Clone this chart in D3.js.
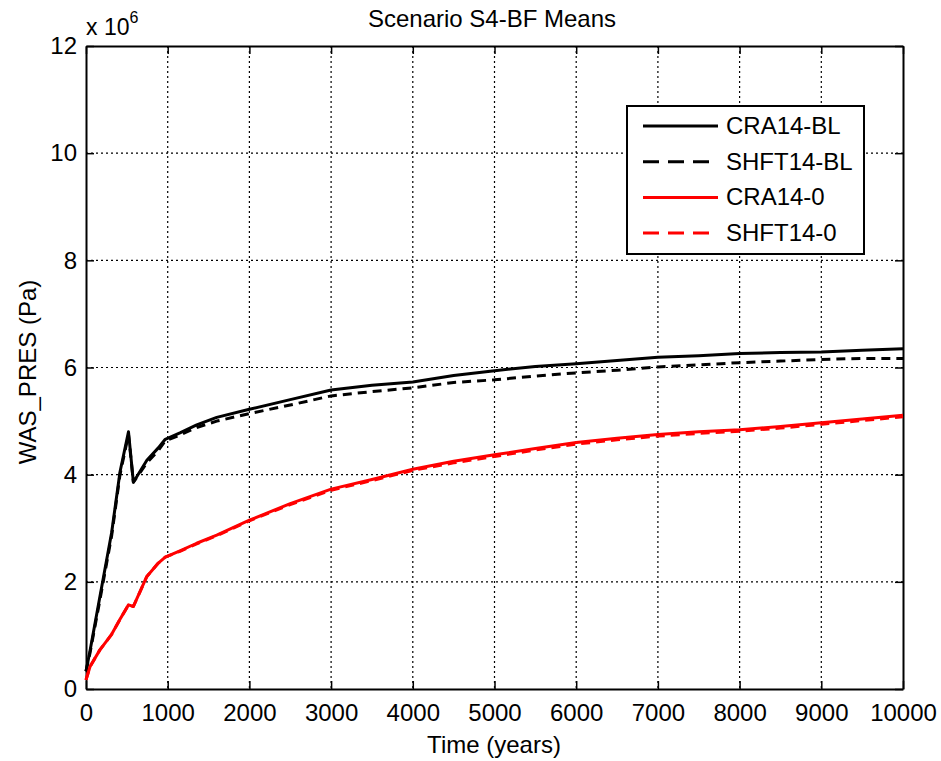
<!DOCTYPE html>
<html>
<head>
<meta charset="utf-8">
<script src="https://cdn.jsdelivr.net/npm/d3@7"></script>
<style>
  body { margin: 0; background: #fff; }
  text { font-family: "Liberation Sans", Arial, sans-serif; }
</style>
</head>
<body>
<div class="chart"></div>
<script>
// data (pressure in units of 1e6 Pa)
var timeYears = [0, 50, 170, 314, 416, 520, 580, 745, 885, 970, 1150, 1355, 1600, 2000, 2500,
  3000, 3500, 4000, 4500, 5000, 5500, 6000, 6500, 7000, 7500, 8000, 8500, 9000, 9500, 10000];
var craBL = [0.33, 0.72, 1.72, 2.92, 4.05, 4.8, 3.86, 4.27, 4.5, 4.66, 4.78, 4.93, 5.07, 5.22, 5.40,
  5.58, 5.67, 5.73, 5.85, 5.94, 6.02, 6.07, 6.13, 6.19, 6.22, 6.26, 6.28, 6.29, 6.32, 6.35];
var shftBL = [0.33, 0.68, 1.66, 2.86, 4.0, 4.75, 3.86, 4.22, 4.45, 4.63, 4.74, 4.88, 5.0, 5.14, 5.30,
  5.47, 5.55, 5.62, 5.72, 5.77, 5.84, 5.90, 5.95, 6.01, 6.05, 6.09, 6.12, 6.15, 6.17, 6.17];
var cra0 = [0.17, 0.42, 0.73, 1.02, 1.3, 1.57, 1.54, 2.1, 2.35, 2.46, 2.58, 2.72, 2.87, 3.15, 3.46,
  3.73, 3.91, 4.10, 4.25, 4.37, 4.49, 4.60, 4.68, 4.75, 4.80, 4.84, 4.90, 4.97, 5.04, 5.11];
var shft0 = [0.17, 0.42, 0.73, 1.02, 1.3, 1.57, 1.54, 2.1, 2.35, 2.46, 2.57, 2.71, 2.86, 3.14, 3.44,
  3.71, 3.89, 4.08, 4.22, 4.34, 4.46, 4.57, 4.65, 4.72, 4.77, 4.81, 4.87, 4.94, 5.01, 5.08];

var seriesNames = ["CRA14-BL", "SHFT14-BL", "CRA14-0", "SHFT14-0"];
var seriesValues = [craBL, shftBL, cra0, shft0];
var seriesColors = ["#000", "#000", "#ff0000", "#ff0000"];
var seriesDash = [null, "9,6", null, "9,6"];

var xTicks = [0, 1000, 2000, 3000, 4000, 5000, 6000, 7000, 8000, 9000, 10000];
var yTicks = [0, 2, 4, 6, 8, 10, 12];

var svgWidth = 941;
var svgHeight = 761;
var margin = { top: 46, right: 38, bottom: 72, left: 86 };
var width = svgWidth - margin.left - margin.right;
var height = svgHeight - margin.top - margin.bottom;

var svg = d3.select(".chart")
  .append("svg")
  .attr("width", svgWidth)
  .attr("height", svgHeight);

var chartGroup = svg.append("g")
  .attr("transform", `translate(${margin.left}, ${margin.top})`);

var xScale = d3.scaleLinear().domain([0, 10000]).range([0, width]);
var yScale = d3.scaleLinear().domain([0, 12]).range([height, 0]);

// grid lines (dotted)
chartGroup.append("g")
  .selectAll("line.vg")
  .data(xTicks.slice(1, -1))
  .enter().append("line")
  .attr("x1", d => xScale(d)).attr("x2", d => xScale(d))
  .attr("y1", 0).attr("y2", height)
  .attr("stroke", "#000").attr("stroke-width", 1.2)
  .attr("stroke-dasharray", "2,3");

chartGroup.append("g")
  .selectAll("line.hg")
  .data(yTicks.slice(1, -1))
  .enter().append("line")
  .attr("x1", 0).attr("x2", width)
  .attr("y1", d => yScale(d)).attr("y2", d => yScale(d))
  .attr("stroke", "#000").attr("stroke-width", 1.2)
  .attr("stroke-dasharray", "2,3");

// axes with inward ticks
var bottomAxis = d3.axisBottom(xScale).tickValues(xTicks).tickFormat(d3.format("d"))
  .tickSizeInner(-8).tickSizeOuter(0).tickPadding(15);
var leftAxis = d3.axisLeft(yScale).tickValues(yTicks).tickFormat(d3.format("d"))
  .tickSizeInner(-8).tickSizeOuter(0).tickPadding(9);
var topAxis = d3.axisTop(xScale).tickValues(xTicks).tickSizeInner(-8).tickSizeOuter(0).tickFormat("");
var rightAxis = d3.axisRight(yScale).tickValues(yTicks).tickSizeInner(-8).tickSizeOuter(0).tickFormat("");

function styleAxis(g) {
  g.select(".domain").attr("stroke", "#000").attr("stroke-width", 2);
  g.selectAll(".tick line").attr("stroke", "#000").attr("stroke-width", 1.5);
  g.selectAll(".tick text").attr("font-size", "24px").attr("fill", "#000")
    .attr("font-family", "Liberation Sans, Arial, sans-serif");
}

chartGroup.append("g").attr("transform", `translate(0, ${height})`).call(bottomAxis).call(styleAxis);
chartGroup.append("g").call(leftAxis).call(styleAxis);
chartGroup.append("g").call(topAxis).call(styleAxis);
chartGroup.append("g").attr("transform", `translate(${width}, 0)`).call(rightAxis).call(styleAxis);

// lines
var line = d3.line()
  .x((d, i) => xScale(timeYears[i]))
  .y(d => yScale(d));

seriesValues.forEach(function (vals, k) {
  chartGroup.append("path")
    .datum(vals)
    .attr("d", line)
    .attr("fill", "none")
    .attr("stroke", seriesColors[k])
    .attr("stroke-width", 3)
    .attr("stroke-linejoin", "round")
    .attr("stroke-dasharray", seriesDash[k]);
});

// legend
var legend = svg.append("g").attr("transform", "translate(627, 106)");
legend.append("rect")
  .attr("width", 237).attr("height", 148)
  .attr("fill", "#fff").attr("stroke", "#000").attr("stroke-width", 2);

seriesNames.forEach(function (name, k) {
  var y = 20 + k * 35.7;
  legend.append("line")
    .attr("x1", 16).attr("x2", 91)
    .attr("y1", y).attr("y2", y)
    .attr("stroke", seriesColors[k])
    .attr("stroke-width", 3)
    .attr("stroke-dasharray", seriesDash[k] ? "16,9" : null);
  legend.append("text")
    .attr("x", 99).attr("y", y + 8)
    .attr("font-size", "24px")
    .text(name);
});

// titles
svg.append("text")
  .attr("x", 492).attr("y", 27)
  .attr("text-anchor", "middle")
  .attr("font-size", "24px")
  .text("Scenario S4-BF Means");

svg.append("text")
  .attr("x", 494).attr("y", 753)
  .attr("text-anchor", "middle")
  .attr("font-size", "24px")
  .text("Time (years)");

svg.append("text")
  .attr("transform", "translate(36, 372) rotate(-90)")
  .attr("text-anchor", "middle")
  .attr("font-size", "24px")
  .text("WAS_PRES (Pa)");

var expo = svg.append("text")
  .attr("x", 86).attr("y", 35)
  .attr("font-size", "23px");
expo.append("tspan").text("x 10");
expo.append("tspan").attr("dy", -12).attr("font-size", "16px").text("6");
</script>
</body>
</html>
